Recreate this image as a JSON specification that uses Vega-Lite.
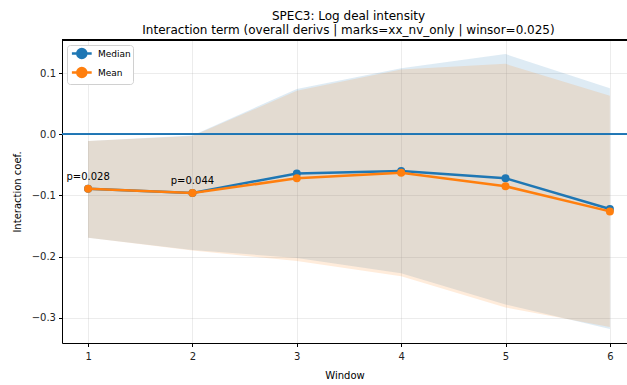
{
  "$schema": "https://vega.github.io/schema/vega-lite/v6.json",
  "autosize": {"type": "none"},
  "padding": {"left": 62, "top": 40, "right": 0, "bottom": 42},
  "width": 565,
  "height": 303,
  "title": {
    "text": "SPEC3: Log deal intensity",
    "subtitle": "Interaction term (overall derivs | marks=xx_nv_only | winsor=0.025)",
    "font": "DejaVu Sans",
    "fontSize": 12,
    "fontWeight": "normal",
    "color": "#000",
    "subtitleFont": "DejaVu Sans",
    "subtitleFontSize": 12,
    "subtitleColor": "#000",
    "subtitlePadding": 2,
    "anchor": "middle",
    "dx": 4,
    "offset": 3
  },
  "data": {
    "values": [
      {"w": 1, "stat": "Median", "est": -0.089, "lo": -0.169, "hi": -0.011, "plabel": "p=0.028"},
      {"w": 2, "stat": "Median", "est": -0.096, "lo": -0.189, "hi": -0.002, "plabel": "p=0.044"},
      {"w": 3, "stat": "Median", "est": -0.064, "lo": -0.202, "hi": 0.074},
      {"w": 4, "stat": "Median", "est": -0.060, "lo": -0.227, "hi": 0.108},
      {"w": 5, "stat": "Median", "est": -0.072, "lo": -0.278, "hi": 0.131},
      {"w": 6, "stat": "Median", "est": -0.122, "lo": -0.318, "hi": 0.075},
      {"w": 1, "stat": "Mean", "est": -0.089, "lo": -0.169, "hi": -0.011},
      {"w": 2, "stat": "Mean", "est": -0.096, "lo": -0.190, "hi": -0.003},
      {"w": 3, "stat": "Mean", "est": -0.072, "lo": -0.207, "hi": 0.071},
      {"w": 4, "stat": "Mean", "est": -0.063, "lo": -0.232, "hi": 0.106},
      {"w": 5, "stat": "Mean", "est": -0.085, "lo": -0.283, "hi": 0.115},
      {"w": 6, "stat": "Mean", "est": -0.126, "lo": -0.315, "hi": 0.063}
    ]
  },
  "encoding": {
    "x": {
      "field": "w", "type": "quantitative",
      "scale": {"domain": [0.75, 6.164], "nice": false, "zero": false},
      "axis": {"values": [1, 2, 3, 4, 5, 6], "format": "d", "title": "Window", "labelPadding": 5, "titlePadding": 9}
    }
  },
  "layer": [
    {
      "transform": [{"filter": "datum.stat == 'Median'"}],
      "mark": {"type": "area", "color": "#1f77b4", "opacity": 0.15},
      "encoding": {
        "y": {"field": "lo", "type": "quantitative",
          "scale": {"domain": [-0.341, 0.154], "nice": false, "zero": false},
          "axis": {"values": [-0.3, -0.2, -0.1, 0, 0.1], "format": ".1f", "title": "Interaction coef.", "titlePadding": 9}},
        "y2": {"field": "hi"}
      }
    },
    {
      "transform": [{"filter": "datum.stat == 'Mean'"}],
      "mark": {"type": "area", "color": "#ff7f0e", "opacity": 0.15},
      "encoding": {
        "y": {"field": "lo", "type": "quantitative"},
        "y2": {"field": "hi"}
      }
    },
    {
      "mark": {"type": "rule", "color": "#1f77b4", "strokeWidth": 1},
      "encoding": {"y": {"datum": 0}, "x": null}
    },
    {
      "mark": {"type": "rule", "color": "#000", "strokeWidth": 1},
      "encoding": {"y": {"datum": 0.154}, "x": null}
    },
    {
      "transform": [{"filter": "datum.stat == 'Median'"}],
      "mark": {"type": "line", "color": "#1f77b4", "strokeWidth": 2.5},
      "encoding": {"y": {"field": "est", "type": "quantitative"}}
    },
    {
      "transform": [{"filter": "datum.stat == 'Median'"}],
      "mark": {"type": "point", "filled": true, "size": 64, "opacity": 1},
      "encoding": {
        "y": {"field": "est", "type": "quantitative"},
        "color": {
          "field": "stat", "type": "nominal",
          "scale": {"domain": ["Median", "Mean"], "range": ["#1f77b4", "#ff7f0e"]},
          "legend": {
            "title": null,
            "orient": "top-left",
            "offset": 5,
            "padding": 2,
            "fillColor": "#ffffff",
            "strokeColor": "#d0d0d0",
            "cornerRadius": 3,
            "symbolType": "M-0.72,0L3.24,0M2.16,0A0.9,0.9,0,1,1,0.36,0A0.9,0.9,0,1,1,2.16,0Z",
            "symbolSize": 100,
            "symbolStrokeWidth": 2.5,
            "symbolOpacity": 1,
            "labelFont": "DejaVu Sans",
            "labelFontSize": 9,
            "labelColor": "#000",
            "labelOffset": 16,
            "rowPadding": 0,
            "encode": {
              "symbols": {"update": {"stroke": {"scale": "color", "field": "value"}, "strokeWidth": {"value": 2.5}}}
            }
          }
        }
      }
    },
    {
      "transform": [{"filter": "datum.stat == 'Mean'"}],
      "mark": {"type": "line", "color": "#ff7f0e", "strokeWidth": 2.5},
      "encoding": {"y": {"field": "est", "type": "quantitative"}}
    },
    {
      "transform": [{"filter": "datum.stat == 'Mean'"}],
      "mark": {"type": "point", "filled": true, "size": 64, "opacity": 1},
      "encoding": {
        "y": {"field": "est", "type": "quantitative"},
        "color": {"field": "stat", "type": "nominal"}
      }
    },
    {
      "transform": [{"filter": "datum.plabel != null"}],
      "mark": {"type": "text", "dy": -12, "font": "DejaVu Sans", "fontSize": 10, "color": "#000"},
      "encoding": {
        "y": {"field": "est", "type": "quantitative"},
        "text": {"field": "plabel"}
      }
    }
  ],
  "config": {
    "view": {"stroke": null},
    "axis": {
      "labelFont": "DejaVu Sans",
      "labelFontSize": 10,
      "labelColor": "#222",
      "titleFont": "DejaVu Sans",
      "titleFontSize": 10,
      "titleFontWeight": "normal",
      "titleColor": "#000",
      "domainColor": "#000",
      "domainWidth": 1,
      "tickColor": "#000",
      "tickSize": 3.5,
      "labelPadding": 3,
      "gridColor": "#b0b0b0",
      "gridOpacity": 0.3,
      "gridWidth": 0.8
    }
  }
}
